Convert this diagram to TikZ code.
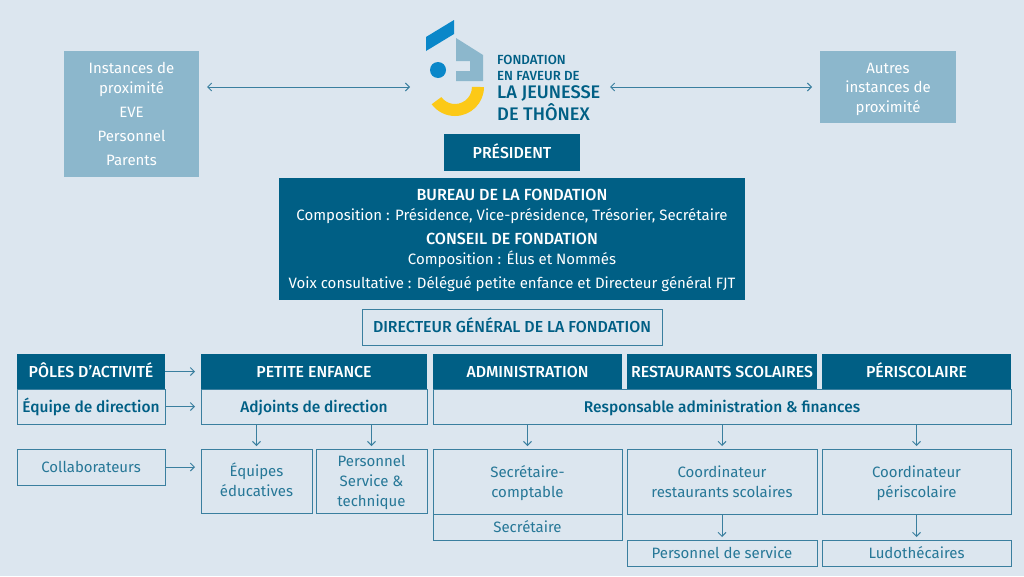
\documentclass[tikz,border=0pt]{standalone}
\usepackage{fontspec}
\setmainfont[BoldFont={Fira Sans Medium}]{Fira Sans}
\usetikzlibrary{arrows.meta}
\definecolor{bg}{HTML}{DCE6EF}
\definecolor{dark}{HTML}{005F85}
\definecolor{light}{HTML}{8CB7CC}
\definecolor{ln}{HTML}{3A7F9F}
\definecolor{ylw}{HTML}{FCC917}
\definecolor{blu}{HTML}{0A87C9}
\newcommand{\bx}[7][]{%
  \pgfmathsetmacro{\cxx}{(#3+#5)/2}\pgfmathsetmacro{\cyy}{(#4+#6)/2}%
  \pgfmathsetmacro{\www}{#5-#3}\pgfmathsetmacro{\hhh}{#6-#4}%
  \node[#1,minimum width=\www pt,minimum height=\hhh pt] (#2) at (\cxx,\cyy) {\rule{0pt}{17.4pt}#7\strut};}
\tikzset{
  base/.style={inner sep=0pt,outer sep=0pt,align=center,font=\fontsize{15}{20}\selectfont},
  darkbox/.style={base,fill=dark,text=white,font=\fontsize{15.9}{20}\selectfont\bfseries},
  lightbox/.style={base,fill=light,text=white},
  outbox/.style={base,draw=ln,line width=1pt,text=dark!85!white},
  outbold/.style={outbox,text=dark,font=\fontsize{15.5}{20}\selectfont\bfseries},
  conn/.style={draw=ln,line width=1pt,-{Straight Barb[length=4pt,width=8pt,line width=1pt]}},
  both/.style={draw=ln,line width=1pt,{Straight Barb[length=4pt,width=8pt]}-{Straight Barb[length=4pt,width=8pt]}},
  logotxt/.style={anchor=west,inner sep=0pt,text=dark,font=\bfseries}
}
\begin{document}
\begin{tikzpicture}[x=1pt,y=1pt,yscale=-1]
\useasboundingbox[fill=bg] (0,0) rectangle (1024,576);
% logo
\fill[blu] (426,37) -- (454,20) -- (454,34) -- (426,51) -- cycle;
\fill[light] (456,38) -- (483,55) -- (483,81) -- (456,81) -- (456,71) -- (470,71) -- (470,61) -- (456,61) -- cycle;
\fill[blu] (438,70) circle[radius=8];
\fill[ylw] (484,87) arc[start angle=0,end angle=143.5,radius=29] -- (441.3,97.1) arc[start angle=143.5,end angle=0,radius=17] -- cycle;
\node[logotxt,font=\fontsize{13.2}{15}\selectfont\bfseries] (l1) at (497,60) {FONDATION};
\node[logotxt,font=\fontsize{13.2}{15}\selectfont\bfseries] (l2) at (497,76) {EN FAVEUR DE};
\node[logotxt,font=\fontsize{18.2}{20}\selectfont\bfseries] (l3) at (497,93) {LA JEUNESSE};
\node[logotxt,font=\fontsize{18.2}{20}\selectfont\bfseries] (l4) at (497,112) {DE THÔNEX};
\coordinate (logoL) at (416,87);
\coordinate (logoR) at (604,87);
% top
\bx[lightbox]{inst}{64}{51}{199}{177}{Instances de\\proximité\\[4pt]EVE\\[4pt]Personnel\\[4pt]Parents}
\bx[lightbox,font=\fontsize{15}{19.5}\selectfont]{autres}{820}{51}{956}{123}{Autres\\instances de\\proximité}
\bx[darkbox]{pres}{444}{134}{580}{171}{PRÉSIDENT}
\bx[darkbox,font=\fontsize{15}{20}\selectfont]{bur}{279}{178}{745}{300}{{\fontsize{16.1}{20}\selectfont\bfseries BUREAU DE LA FONDATION}\\Composition : Présidence, Vice-présidence, Trésorier, Secrétaire\\[4pt]{\fontsize{16.1}{20}\selectfont\bfseries CONSEIL DE FONDATION}\\Composition : Élus et Nommés\\[4pt]Voix consultative : Délégué petite enfance et Directeur général FJT}
\bx[outbold,font=\fontsize{15.9}{20}\selectfont\bfseries]{dir}{362}{309}{662}{345}{DIRECTEUR GÉNÉRAL DE LA FONDATION}
% row headings
\bx[darkbox]{poles}{17}{354}{165}{389}{PÔLES D’ACTIVITÉ}
\bx[darkbox]{pe}{201}{354}{427}{389}{PETITE ENFANCE}
\bx[darkbox]{adm}{433}{354}{622}{389}{ADMINISTRATION}
\bx[darkbox]{rest}{627}{354}{817}{389}{RESTAURANTS SCOLAIRES}
\bx[darkbox]{peri}{822}{354}{1011}{389}{PÉRISCOLAIRE}
\bx[outbold]{eqd}{17}{389}{165}{424}{Équipe de direction}
\bx[outbold]{adj}{201}{389}{427}{424}{Adjoints de direction}
\bx[outbold]{resp}{433}{389}{1011}{424}{Responsable administration \& finances}
\bx[outbox]{coll}{17}{449}{165}{485}{Collaborateurs}
\bx[outbox]{eqe}{201}{449}{312}{513}{Équipes\\éducatives}
\bx[outbox]{pers}{316}{449}{427}{513}{Personnel\\Service \&\\technique}
\bx[outbox]{secc}{433}{449}{622}{514}{Secrétaire-\\comptable}
\bx[outbox]{sec}{433}{514}{622}{540}{Secrétaire}
\bx[outbox]{cres}{627}{449}{817}{514}{Coordinateur\\restaurants scolaires}
\bx[outbox]{pser}{627}{540}{817}{566}{Personnel de service}
\bx[outbox]{cper}{822}{449}{1011}{514}{Coordinateur\\périscolaire}
\bx[outbox]{ludo}{822}{540}{1011}{566}{Ludothécaires}
% connectors
\draw[both,shorten <=8pt,shorten >=6pt] (inst.east |- logoL) -- (logoL);
\draw[both,shorten <=6pt,shorten >=8pt] (logoR) -- (autres.west |- logoR);
\draw[conn,shorten >=6pt] (poles) -- (pe);
\draw[conn,shorten >=6pt] (eqd) -- (adj);
\draw[conn,shorten >=6pt] (coll.east) -- (coll.east -| eqe.west);
\foreach \t in {eqe,pers,secc,cres,cper}{
  \draw[conn,shorten >=3pt] (adj.south -| \t.north) -- (\t.north);
}
\draw[conn,shorten >=3pt] (cres) -- (pser);
\draw[conn,shorten >=3pt] (cper) -- (ludo);
\end{tikzpicture}
\end{document}
